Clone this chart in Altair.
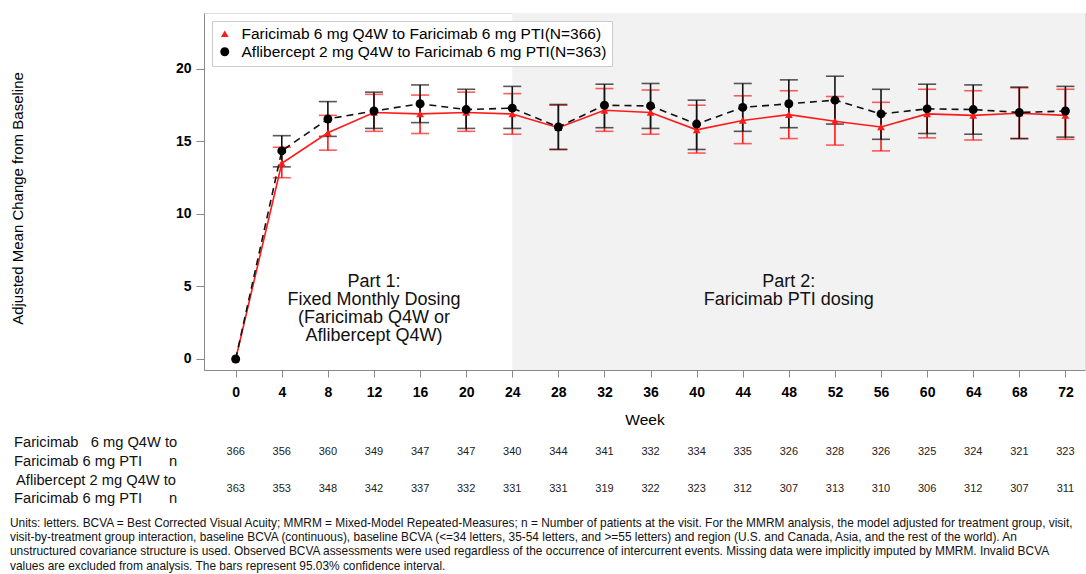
import altair as alt
import pandas as pd

# Visit weeks
weeks = [0, 4, 8, 12, 16, 20, 24, 28, 32, 36, 40, 44, 48, 52, 56, 60, 64, 68, 72]

# Faricimab 6 mg Q4W -> Faricimab 6 mg PTI: adjusted mean change and 95.03% CI
far_mean = [0, 13.5, 15.6, 17.0, 16.9, 17.0, 16.9, 15.95, 17.15, 17.0, 15.8, 16.45, 16.85, 16.4, 16.0, 16.9, 16.8, 16.95, 16.8]
far_lo = [0, 12.5, 14.4, 15.7, 15.55, 15.7, 15.5, 14.45, 15.7, 15.5, 14.2, 14.85, 15.2, 14.75, 14.35, 15.25, 15.1, 15.2, 15.15]
far_hi = [0, 14.6, 16.8, 18.25, 18.2, 18.4, 18.3, 17.5, 18.65, 18.55, 17.5, 18.15, 18.5, 18.1, 17.7, 18.6, 18.5, 18.7, 18.6]

# Aflibercept 2 mg Q4W -> Faricimab 6 mg PTI
afl_mean = [0, 14.35, 16.55, 17.1, 17.6, 17.2, 17.3, 16.0, 17.5, 17.45, 16.2, 17.35, 17.6, 17.85, 16.9, 17.25, 17.2, 17.0, 17.1]
afl_lo = [0, 13.25, 15.35, 15.9, 16.3, 15.9, 15.9, 14.45, 15.95, 15.9, 14.45, 15.7, 15.95, 16.2, 15.15, 15.55, 15.5, 15.2, 15.3]
afl_hi = [0, 15.4, 17.75, 18.4, 18.9, 18.6, 18.8, 17.55, 18.95, 19.0, 17.85, 19.0, 19.25, 19.5, 18.6, 18.95, 18.9, 18.75, 18.8]

# Patients at each visit
far_n = [366, 356, 360, 349, 347, 347, 340, 344, 341, 332, 334, 335, 326, 328, 326, 325, 324, 321, 323]
afl_n = [363, 353, 348, 342, 337, 332, 331, 331, 319, 322, 323, 312, 307, 313, 310, 306, 312, 307, 311]

far_label = "Faricimab 6 mg Q4W to Faricimab 6 mg PTI(N=366)"
afl_label = "Aflibercept 2 mg Q4W to Faricimab 6 mg PTI(N=363)"

part2_start = 24
x_domain = [-2.75, 73.7]
y_domain = [-0.76, 23.86]

part1_text = "Part 1:\nFixed Monthly Dosing\n(Faricimab Q4W or\nAflibercept Q4W)"
part2_text = "Part 2:\nFaricimab PTI dosing"

NBSP = "\u00a0"
row_labels = [
    "Faricimab" + NBSP * 3 + "6 mg Q4W to",
    "Faricimab 6 mg PTI",
    "Aflibercept 2 mg Q4W to",
    "Faricimab 6 mg PTI",
]

footnote = [
    "Units: letters. BCVA = Best Corrected Visual Acuity; MMRM = Mixed-Model Repeated-Measures; n = Number of patients at the visit. For the MMRM analysis, the model adjusted for treatment group, visit,",
    "visit-by-treatment group interaction, baseline BCVA (continuous), baseline BCVA (<=34 letters, 35-54 letters, and >=55 letters) and region (U.S. and Canada, Asia, and the rest of the world). An",
    "unstructured covariance structure is used. Observed BCVA assessments were used regardless of the occurrence of intercurrent events. Missing data were implicitly imputed by MMRM. Invalid BCVA",
    "values are excluded from analysis. The bars represent 95.03% confidence interval.",
]

FONT = "Liberation Sans"
W, H = 881, 357
TOP, LEFT = 13, 204

far = pd.DataFrame({"week": weeks, "mean": far_mean, "lo": far_lo, "hi": far_hi, "n": far_n, "series": far_label})
afl = pd.DataFrame({"week": weeks, "mean": afl_mean, "lo": afl_lo, "hi": afl_hi, "n": afl_n, "series": afl_label})
df = pd.concat([far, afl], ignore_index=True)

xs = alt.Scale(domain=x_domain, nice=False, zero=False)
ys = alt.Scale(domain=y_domain, nice=False, zero=False)

x_axis = alt.Axis(
    values=weeks, title="Week", labelFontSize=14, labelFontWeight="bold", labelPadding=8,
    titleFontSize=15.5, titleFontWeight="normal", titlePadding=13, tickSize=7, grid=False,
)
y_axis = alt.Axis(
    values=[0, 5, 10, 15, 20], title="Adjusted Mean Change from Baseline", labelFontSize=14,
    labelFontWeight="bold", labelPadding=5, titleFontSize=15, titleFontWeight="normal",
    titlePadding=150, titleY=185, tickSize=8, grid=False,
)

base = alt.Chart(df)

# Part 2 shading
shade = alt.Chart(pd.DataFrame({"start": [part2_start], "end": [x_domain[1]]})).mark_rect(
    color="#f2f2f2"
).encode(
    x=alt.X("start:Q", scale=xs, axis=x_axis),
    x2="end:Q",
    y=alt.value(0),
    y2=alt.value(H),
)


def series_layers(label, color, dash):
    sub = base.transform_filter(alt.datum.series == label)
    bars = sub.transform_filter(alt.datum.week > 0)
    rule = bars.mark_rule(color=color, strokeWidth=1.6).encode(
        x=alt.X("week:Q", scale=xs),
        y=alt.Y("lo:Q", scale=ys, axis=y_axis),
        y2="hi:Q",
    )
    cap_lo = bars.mark_tick(color=color, orient="horizontal", size=18, thickness=1.6).encode(
        x=alt.X("week:Q", scale=xs), y=alt.Y("lo:Q", scale=ys)
    )
    cap_hi = bars.mark_tick(color=color, orient="horizontal", size=18, thickness=1.6).encode(
        x=alt.X("week:Q", scale=xs), y=alt.Y("hi:Q", scale=ys)
    )
    line_kw = {"color": color, "strokeWidth": 1.6}
    if dash:
        line_kw["strokeDash"] = dash
    line = sub.mark_line(**line_kw).encode(
        x=alt.X("week:Q", scale=xs), y=alt.Y("mean:Q", scale=ys)
    )
    return rule, cap_lo, cap_hi, line


far_rule, far_cl, far_ch, far_line = series_layers(far_label, "#ff1a1a", None)
afl_rule, afl_cl, afl_ch, afl_line = series_layers(afl_label, "#111111", [7, 5])

legend = alt.Legend(
    title=None, orient="none", legendX=8, legendY=8, fillColor="white", strokeColor="#cccccc",
    padding=5, labelFontSize=15.5, labelFont=FONT, labelLimit=600, rowPadding=1,
    labelOffset=9, offset=0,
)
points = base.mark_point(filled=True, opacity=1).encode(
    x=alt.X("week:Q", scale=xs),
    y=alt.Y("mean:Q", scale=ys),
    color=alt.Color("series:N", scale=alt.Scale(domain=[far_label, afl_label], range=["#ff1a1a", "#000000"]), legend=legend),
    shape=alt.Shape("series:N", scale=alt.Scale(domain=[far_label, afl_label], range=["triangle-up", "circle"]), legend=legend),
    size=alt.Size("series:N", scale=alt.Scale(domain=[far_label, afl_label], range=[60, 80]), legend=None),
)

# Phase annotations
ann = pd.DataFrame({"week": [12, 48], "y": [5.95, 5.95], "text": [part1_text, part2_text]})
notes = alt.Chart(ann).mark_text(
    font=FONT, fontSize=18, lineHeight=18, baseline="top", align="center", lineBreak="\n", color="#111111"
).encode(x=alt.X("week:Q", scale=xs), y=alt.Y("y:Q", scale=ys), text="text:N")

# n-at-risk table under the axis
n_far = alt.Chart(far).mark_text(font=FONT, fontSize=11, color="#222222").encode(
    x=alt.X("week:Q", scale=xs), y=alt.value(452 - TOP), text="n:Q"
)
n_afl = alt.Chart(afl).mark_text(font=FONT, fontSize=11, color="#222222").encode(
    x=alt.X("week:Q", scale=xs), y=alt.value(489 - TOP), text="n:Q"
)

rows = pd.DataFrame({
    "text": row_labels,
    "ypix": [443 - TOP, 462 - TOP, 481 - TOP, 499 - TOP],
    "xpix": [14 - LEFT, 14 - LEFT, 16 - LEFT, 14 - LEFT],
})
row_text = alt.Chart(rows).mark_text(font=FONT, fontSize=14.7, align="left", color="#111111").encode(
    x=alt.X("xpix:Q", scale=None), y=alt.Y("ypix:Q", scale=None), text="text:N"
)
n_marks = pd.DataFrame({"text": ["n", "n"], "ypix": [462 - TOP, 499 - TOP]})
n_text = alt.Chart(n_marks).mark_text(font=FONT, fontSize=14.7, align="center", color="#111111").encode(
    x=alt.value(173 - LEFT), y=alt.Y("ypix:Q", scale=None), text="text:N"
)

foot = pd.DataFrame({"text": footnote, "ypix": [523 - TOP, 537 - TOP, 551 - TOP, 566 - TOP]})
foot_text = alt.Chart(foot).mark_text(font=FONT, fontSize=11.9, align="left", color="#111111").encode(
    x=alt.value(10 - LEFT), y=alt.Y("ypix:Q", scale=None), text="text:N"
)

chart = alt.layer(
    shade, far_rule, far_cl, far_ch, afl_rule, afl_cl, afl_ch, far_line, afl_line, points,
    notes, n_far, n_afl, row_text, n_text, foot_text,
).properties(
    width=W, height=H, padding={"left": LEFT, "top": TOP, "right": 1, "bottom": 204},
    autosize=alt.AutoSizeParams(type="none"),
).configure_view(
    stroke="#aaaaaa", strokeWidth=1.5
).configure_axis(
    labelFont=FONT, titleFont=FONT, labelColor="#111111", titleColor="#111111",
    domainColor="#aaaaaa", domainWidth=1.5, tickColor="#aaaaaa", tickWidth=1.5,
).configure(background="white")

chart.save("out.html", embed_options={"renderer": "svg", "actions": False})
